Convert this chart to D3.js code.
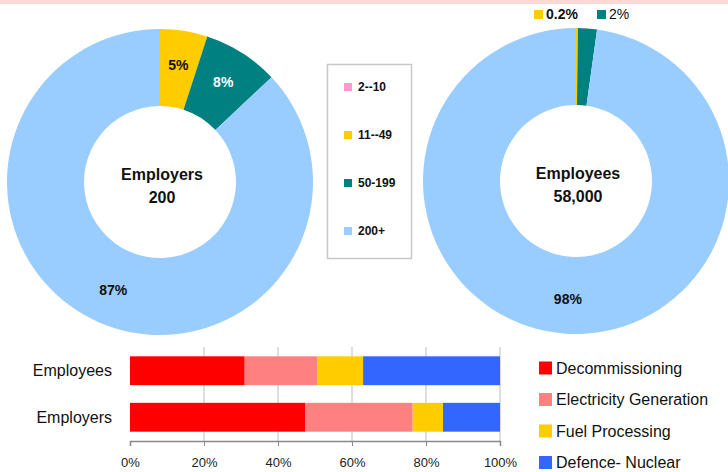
<!DOCTYPE html>
<html>
<head>
<meta charset="utf-8">
<script src="https://cdn.jsdelivr.net/npm/d3@7"></script>
<style>
  html, body { margin: 0; padding: 0; background: #ffffff; }
  svg { display: block; font-family: "Liberation Sans", Arial, sans-serif; }
</style>
</head>
<body>
<svg id="chart" width="728" height="472"></svg>
<script>
// ---------- data ----------
const sizeBands = ["2--10", "11--49", "50-199", "200+"];
const employerShares = [0, 5, 8, 87];
const employeeShares = [0, 0.2, 2, 97.8];
const employerLabels = ["", "5%", "8%", "87%"];
const employeeLabels = ["", "0.2%", "2%", "98%"];
const employerTitle = ["Employers", "200"];
const employeeTitle = ["Employees", "58,000"];
const bandColors = ["#ff99cc", "#ffcc00", "#008080", "#99ccff"];

const barCategories = ["Employees", "Employers"];
const sectors = ["Decommissioning", "Electricity Generation", "Fuel Processing", "Defence- Nuclear"];
const employeesSplit = [31, 19.7, 12.3, 37];
const employersSplit = [47.3, 29.1, 8.2, 15.4];
const sectorColors = ["#ff0000", "#ff8080", "#ffcc00", "#3366ff"];
const xTicks = [0, 20, 40, 60, 80, 100];

// ---------- setup ----------
const svg = d3.select("#chart");
svg.append("rect").attr("x", 0).attr("y", 0).attr("width", 728).attr("height", 4).attr("fill", "#fdd6d6");

const R = 153, r0 = 76;
const pie = d3.pie().sort(null).value(d => d);
const arc = d3.arc().innerRadius(r0).outerRadius(R);
const labelArc = d3.arc().innerRadius(118).outerRadius(118);

function donut(cx, cy, shares, labels, title, outsideSmall) {
  const g = svg.append("g").attr("transform", `translate(${cx},${cy})`);
  const arcs = pie(shares);
  g.selectAll("path").data(arcs).enter().append("path")
    .attr("d", arc)
    .attr("fill", (d, i) => bandColors[i]);
  arcs.forEach((a, i) => {
    if (!labels[i]) return;
    if (outsideSmall && a.data < 5) return;
    const c = labelArc.centroid(a);
    g.append("text")
      .attr("x", c[0]).attr("y", c[1])
      .attr("text-anchor", "middle").attr("dominant-baseline", "central")
      .attr("font-size", 14).attr("font-weight", "bold")
      .attr("fill", i === 2 ? "#ffffff" : "#111111")
      .text(labels[i]);
  });
  g.append("text").attr("x", 2).attr("y", -8)
    .attr("text-anchor", "middle").attr("dominant-baseline", "central")
    .attr("font-size", 16).attr("font-weight", "bold").attr("fill", "#111")
    .text(title[0]);
  g.append("text").attr("x", 2).attr("y", 15)
    .attr("text-anchor", "middle").attr("dominant-baseline", "central")
    .attr("font-size", 16).attr("font-weight", "bold").attr("fill", "#111")
    .text(title[1]);
  return g;
}

donut(160, 182, employerShares, employerLabels, employerTitle, false);
const g2 = donut(576, 181, employeeShares, employeeLabels, employeeTitle, true);

// outside labels for small employee slices
const smallLabelOffsets = [null, -42, 21, null];
[1, 2].forEach(i => {
  const x0 = smallLabelOffsets[i];
  const y0 = -R - 14;
  g2.append("rect").attr("x", x0).attr("y", y0 - 4).attr("width", 9).attr("height", 9)
    .attr("fill", bandColors[i]);
  g2.append("text").attr("x", x0 + 12).attr("y", y0)
    .attr("dominant-baseline", "central")
    .attr("font-size", 14).attr("font-weight", i === 1 ? "bold" : "normal").attr("fill", "#111")
    .text(employeeLabels[i]);
});

// donut legend box
const lg = svg.append("g");
lg.append("rect").attr("x", 327.5).attr("y", 64.5).attr("width", 84).attr("height", 194)
  .attr("fill", "#ffffff").attr("stroke", "#c8c8c8").attr("stroke-width", 1.5);
sizeBands.forEach((b, i) => {
  const y = 87 + i * 48;
  lg.append("rect").attr("x", 344).attr("y", y - 4).attr("width", 8).attr("height", 8).attr("fill", bandColors[i]);
  lg.append("text").attr("x", 358).attr("y", y).attr("dominant-baseline", "central")
    .attr("font-size", 12).attr("font-weight", "bold").attr("fill", "#111").text(b);
});

// ---------- stacked bar ----------
const x = d3.scaleLinear().domain([0, 100]).range([130, 500]);
const y = d3.scaleBand().domain(barCategories).range([347, 441]).paddingInner(0.38).paddingOuter(0.2);
const splits = [employeesSplit, employersSplit];

const bg = svg.append("g");
bg.selectAll("line.grid").data(xTicks.filter(t => t > 0)).enter().append("line")
  .attr("x1", d => x(d)).attr("x2", d => x(d))
  .attr("y1", 347).attr("y2", 441)
  .attr("stroke", "#bdbdbd").attr("stroke-width", 1);

barCategories.forEach((cat, ci) => {
  const vals = splits[ci];
  let acc = 0;
  vals.forEach((v, si) => {
    bg.append("rect")
      .attr("x", x(acc)).attr("y", y(cat))
      .attr("width", x(acc + v) - x(acc)).attr("height", y.bandwidth())
      .attr("fill", sectorColors[si]);
    acc += v;
  });
  bg.append("text").attr("x", 112).attr("y", y(cat) + y.bandwidth() / 2)
    .attr("text-anchor", "end").attr("dominant-baseline", "central")
    .attr("font-size", 16).attr("fill", "#111").text(cat);
});

const axis = d3.axisBottom(x).tickValues(xTicks).tickFormat(d => d + "%").tickSize(5).tickPadding(12);
const ax = svg.append("g").attr("transform", "translate(0,441)").call(axis);
ax.select(".domain").attr("stroke", "#888").attr("stroke-width", 1.5);
ax.selectAll(".tick line").attr("stroke", "#888");
ax.selectAll(".tick text").attr("font-size", 13).attr("fill", "#222")
  .attr("font-family", "'Liberation Sans', Arial, sans-serif");

// bar legend
sectors.forEach((s, i) => {
  const yy = 368 + i * 31.5;
  svg.append("rect").attr("x", 539).attr("y", yy - 6.5).attr("width", 13).attr("height", 13).attr("fill", sectorColors[i]);
  svg.append("text").attr("x", 556).attr("y", yy).attr("dominant-baseline", "central")
    .attr("font-size", 16).attr("fill", "#111").text(s);
});
</script>
</body>
</html>
